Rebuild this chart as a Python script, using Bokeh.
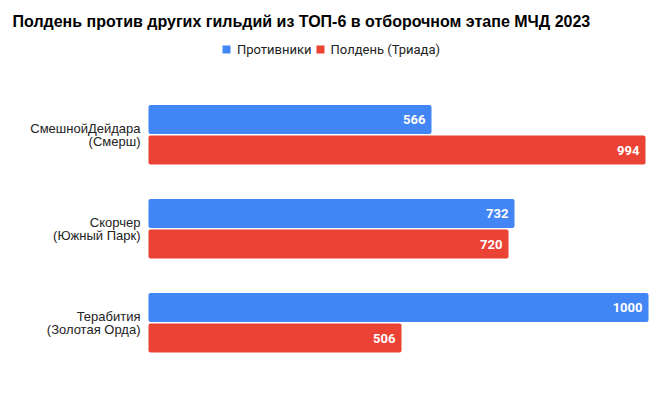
from bokeh.plotting import figure
from bokeh.models import ColumnDataSource, Range1d, Label, Legend, LegendItem
from bokeh.core.properties import value
from bokeh.embed import file_html
from bokeh.resources import INLINE

title_text = "Полдень против других гильдий из ТОП-6 в отборочном этапе МЧД 2023"
categories = ["СмешнойДейдара\n(Смерш)", "Скорчер\n(Южный Парк)", "Терабития\n(Золотая Орда)"]
series_names = ["Противники", "Полдень (Триада)"]
opponents = [566, 732, 1000]
polden = [994, 720, 506]
colors = ["#4285F4", "#EA4335"]

W, H = 656, 404
idx = list(range(len(categories)))
src = ColumnDataSource(dict(
    k=idx,
    k_opp=[i - 0.165 for i in idx],
    k_pol=[i + 0.16 for i in idx],
    cat=categories,
    opp=opponents,
    pol=polden,
    opp_txt=[str(v) for v in opponents],
    pol_txt=[str(v) for v in polden],
))

# frame covers the whole canvas; 0.5 px per unit on x, 94 px per category on y
p = figure(
    width=W, height=H,
    x_range=Range1d(-296, -296 + W * 2),
    y_range=Range1d((H - 134.5) / 94.0, -134.5 / 94.0),
    output_backend="svg", toolbar_location=None,
    min_border=0,
)
p.outline_line_color = None
p.grid.visible = False
p.axis.visible = False

r1 = p.hbar(y="k_opp", right="opp", left=0, height=0.31, source=src,
            fill_color=colors[0], line_color=None, border_radius=2)
r2 = p.hbar(y="k_pol", right="pol", left=0, height=0.31, source=src,
            fill_color=colors[1], line_color=None, border_radius=2)

for ycol, xcol, tcol in [("k_opp", "opp", "opp_txt"), ("k_pol", "pol", "pol_txt")]:
    p.text(x=xcol, y=ycol, text=tcol, source=src, x_offset=-6,
           text_align="right", text_baseline="middle",
           text_font=value("Roboto"), text_font_style="bold",
           text_font_size="13px", text_color="white")

# category labels
p.text(x=0, y="k", text="cat", source=src, x_offset=-8,
       text_align="right", text_baseline="middle", text_line_height=0.85,
       text_font=value("Liberation Sans"), text_font_size="13px",
       text_color="#222222")

p.add_layout(Label(x=12, y=H - 21, x_units="screen", y_units="screen",
                   text=title_text, text_font="Liberation Sans",
                   text_font_style="bold", text_font_size="16px",
                   text_color="#000000", text_baseline="middle", text_align="left"))

legend = Legend(items=[LegendItem(label=series_names[0], renderers=[r1]),
                       LegendItem(label=series_names[1], renderers=[r2])],
                location=(221, H - 56.5), orientation="horizontal",
                padding=0, margin=0, spacing=3,
                glyph_width=10, glyph_height=10, label_height=14, label_standoff=6,
                label_text_font="Roboto", label_text_font_size="13px",
                label_text_color="#222222",
                border_line_color=None, background_fill_alpha=0)
p.add_layout(legend, "center")

open("out.html", "w").write(file_html(p, INLINE))
